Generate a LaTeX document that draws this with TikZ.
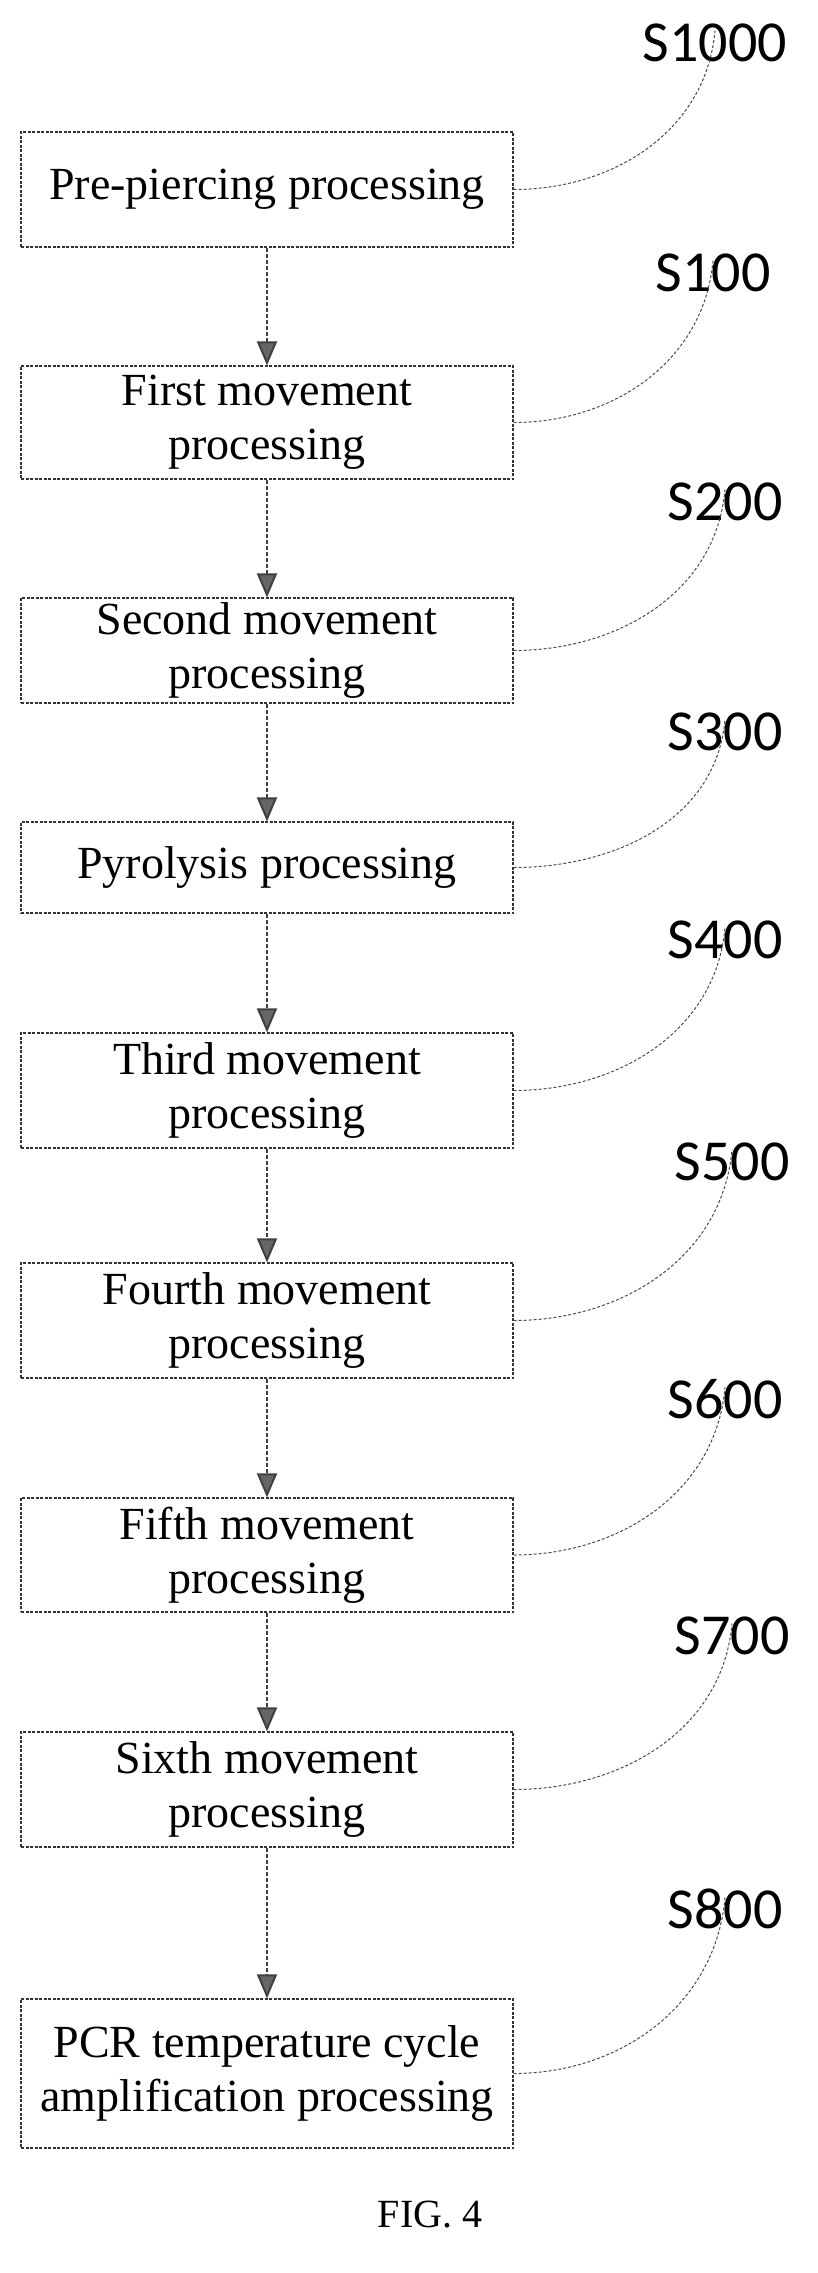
\documentclass[tikz,border=0pt]{standalone}
\usepackage{fontspec}
\setmainfont{Liberation Serif}
\newfontfamily\lab{Carlito}
\usetikzlibrary{arrows.meta}
\begin{document}
\begin{tikzpicture}[x=1pt,y=-1pt,
  box/.style={draw=black!80,dashed,line width=1.2pt,dash pattern=on 3pt off 1.5pt,minimum width=492pt,align=center,inner sep=0pt,font=\fontsize{46}{54}\selectfont},
  lbl/.style={font=\lab\fontsize{58}{60}\selectfont},
  arr/.style={draw=black!75,line width=2pt,dash pattern=on 4pt off 2pt,-{Triangle[width=20pt,length=24pt,fill=black!60]}},
  lead/.style={draw=black!70,line width=1pt,dash pattern=on 3pt off 2pt}]
\useasboundingbox (0,0) rectangle (818,2273);
\def\bx#1#2#3#4{\node[box,minimum height={#3-#2}] (#1) at (267,{(#2+#3)/2}) {#4};}
\bx{b1}{132}{247}{Pre-piercing processing}
\bx{b2}{366}{479}{First movement\\processing}
\bx{b3}{598}{703}{Second movement\\processing}
\bx{b4}{822}{913}{Pyrolysis processing}
\bx{b5}{1033}{1148}{Third movement\\processing}
\bx{b6}{1263}{1378}{Fourth movement\\processing}
\bx{b7}{1498}{1612}{Fifth movement\\processing}
\bx{b8}{1732}{1847}{Sixth movement\\processing}
\bx{b9}{1999}{2148}{PCR temperature cycle\\amplification processing}
\node[lbl] (l1) at (715,43) {S1000};
\node[lbl] (l2) at (713,273) {S100};
\node[lbl] (l3) at (725,502) {S200};
\node[lbl] (l4) at (725,732) {S300};
\node[lbl] (l5) at (725,940) {S400};
\node[lbl] (l6) at (732,1162) {S500};
\node[lbl] (l7) at (725,1399) {S600};
\node[lbl] (l8) at (732,1636) {S700};
\node[lbl] (l9) at (725,1909) {S800};
\foreach \a/\b in {b1/b2,b2/b3,b3/b4,b4/b5,b5/b6,b6/b7,b7/b8,b8/b9}
  \draw[arr] (\a.south) -- (\b.north);
\foreach \i in {1,...,9}{
  \coordinate (c\i) at ([yshift=35pt]l\i.south);
  \draw[lead] (b\i.east) to[out=0,in=-95] (c\i);}
\node[font=\fontsize{40}{44}\selectfont] (fig) at (430,2215) {FIG. 4};
\end{tikzpicture}
\end{document}
